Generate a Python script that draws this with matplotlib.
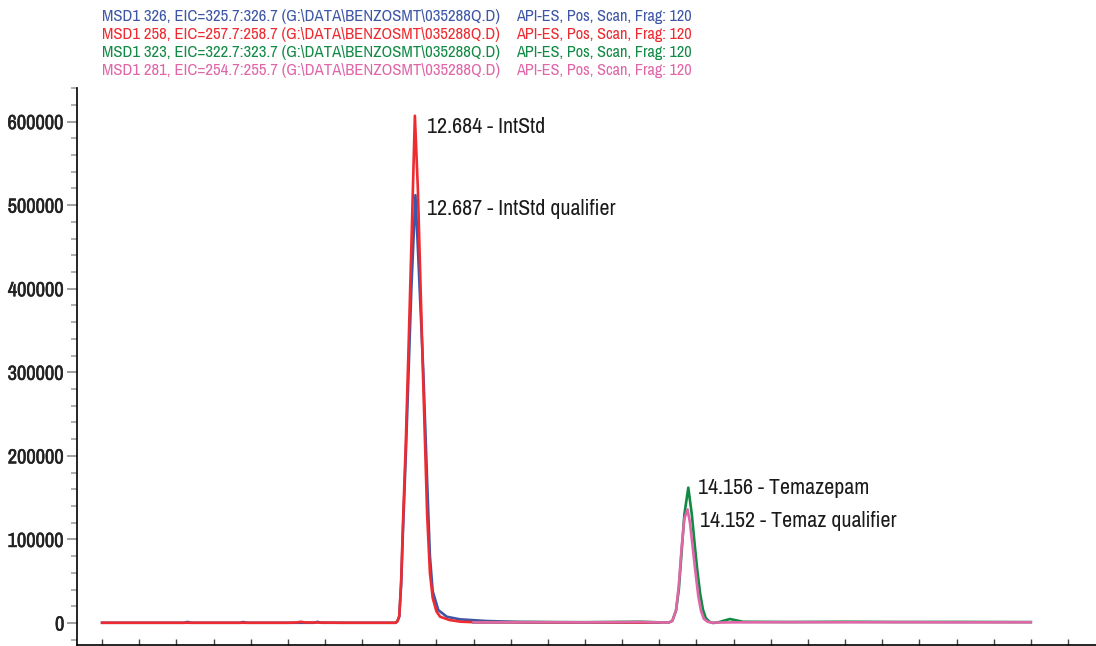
import numpy as np
import matplotlib.pyplot as plt
import matplotlib.patheffects as pe
from matplotlib import font_manager
from matplotlib.ticker import MultipleLocator, NullFormatter

# the original uses a condensed face; take one if installed
names = sorted({f.name for f in font_manager.fontManager.ttflist})
narrow = [n for n in names if 'Condensed' in n or 'Narrow' in n]
plt.rcParams['font.family'] = narrow[:1] + ['Liberation Sans', 'DejaVu Sans']

# trace colours (header legend uses the same)
c_blue = "#3d56a6"
c_red = "#ee2b30"
c_green = "#108a45"
c_pink = "#e066a8"

# MSD1 326 (IntStd qualifier), blue
t_326 = [11.00, 11.30, 11.44, 11.46, 11.48, 11.74, 11.76, 11.78, 12.14, 12.16, 12.18, 12.40, 12.58,
         12.59, 12.60, 12.61, 12.62, 12.635, 12.65, 12.665, 12.687, 12.70, 12.729, 12.75, 12.765,
         12.78, 12.81, 12.856, 12.927, 13.07, 13.25, 13.50, 13.75, 14.00]
v_326 = [300, 300, 300, 1300, 300, 300, 1200, 300, 300, 1400, 300, 300, 300,
         2000, 8000, 45000, 110000, 200000, 300000, 400000, 512000, 450000, 303000, 170000, 80000,
         38000, 15500, 7500, 4400, 2400, 1200, 700, 600, 500]

# MSD1 258 (IntStd), red
t_258 = [11.00, 11.50, 12.00, 12.05, 12.07, 12.09, 12.30, 12.58,
         12.59, 12.60, 12.61, 12.62, 12.635, 12.65, 12.665, 12.684, 12.70, 12.727, 12.75, 12.765,
         12.78, 12.80, 12.82, 12.87, 12.93, 13.00, 13.25, 13.50, 13.75, 14.00]
v_258 = [300, 300, 300, 700, 1500, 700, 300, 300,
         2000, 8000, 50000, 120000, 215000, 330000, 450000, 607000, 520000, 303000, 130000, 60000,
         30000, 14000, 7500, 3600, 1600, 1000, 800, 600, 500, 500]

# MSD1 323 (Temazepam), green
t_323 = [13.00, 13.30, 13.60, 13.90, 14.05, 14.07, 14.09, 14.105, 14.12, 14.135, 14.156, 14.175,
         14.19, 14.205, 14.22, 14.235, 14.25, 14.27, 14.29, 14.32, 14.38, 14.45, 14.70, 15.00,
         15.30, 15.60, 16.00]
v_323 = [1000, 1200, 1000, 1500, 500, 2500, 15000, 40000, 85000, 130000, 162000, 130000,
         95000, 62000, 35000, 16000, 6000, 1500, 0, 1000, 4800, 1500, 1200, 1500,
         1200, 1300, 1100]

# MSD1 281 (Temaz qualifier), pink
t_281 = [13.00, 13.30, 13.60, 13.90, 14.05, 14.07, 14.09, 14.105, 14.12, 14.135, 14.152, 14.165,
         14.18, 14.195, 14.21, 14.225, 14.24, 14.26, 14.28, 14.40, 14.70, 15.00, 15.30, 15.60, 16.00]
v_281 = [800, 1000, 800, 1200, 500, 2500, 15000, 45000, 90000, 125000, 136000, 120000,
         90000, 60000, 32000, 14000, 5000, 1500, 500, 800, 1000, 900, 1000, 800, 900]

y_ticks = [0, 100000, 200000, 300000, 400000, 500000, 600000]

legend_left = [
    r"MSD1 326, EIC=325.7:326.7 (G:\DATA\BENZOSMT\035288Q.D)",
    r"MSD1 258, EIC=257.7:258.7 (G:\DATA\BENZOSMT\035288Q.D)",
    r"MSD1 323, EIC=322.7:323.7 (G:\DATA\BENZOSMT\035288Q.D)",
    r"MSD1 281, EIC=254.7:255.7 (G:\DATA\BENZOSMT\035288Q.D)",
]
legend_right = "API-ES, Pos, Scan, Frag: 120"

peak_labels = [
    (12.684, 607000, "12.684 - IntStd", (12, -11)),
    (12.687, 512000, "12.687 - IntStd qualifier", (12, -14)),
    (14.156, 162000, "14.156 - Temazepam", (10, 0)),
    (14.152, 136000, "14.152 - Temaz qualifier", (12, -12)),
]

fig = plt.figure(figsize=(10.96, 6.46), dpi=100)
ax = fig.add_axes([77 / 1096, 1 / 646, 1 - 77 / 1096, 557 / 646])

ax.plot(t_326, v_326, color=c_blue, lw=1.9)
ax.plot(t_258, v_258, color=c_red, lw=1.9)
ax.plot(t_323, v_323, color=c_green, lw=1.9)
ax.plot(t_281, v_281, color=c_pink, lw=1.9)

ax.set_xlim(10.865, 16.351)
ax.set_ylim(-26300, 640200)

ax.spines['top'].set_visible(False)
ax.spines['right'].set_visible(False)
ax.spines['left'].set_linewidth(1.2)
ax.spines['bottom'].set_linewidth(1.2)

ax.set_xticks(np.arange(11.0, 16.21, 0.2))
ax.xaxis.set_major_formatter(NullFormatter())
ax.tick_params(axis='x', direction='in', length=4, width=1, color='#444444')

ax.yaxis.set_minor_locator(MultipleLocator(20000))
ax.set_yticks(y_ticks)
ax.set_yticklabels([str(v) for v in y_ticks], fontweight='bold', fontsize=13, color='#222222')
ax.tick_params(axis='y', which='major', direction='out', length=7, width=1.3, color='#999999', pad=2)
ax.tick_params(axis='y', which='minor', direction='out', length=4.5, width=1.3, color='#aaaaaa')

ann = []
for t, v, txt, off in peak_labels:
    a = ax.annotate(txt, xy=(t, v), xytext=off, textcoords='offset pixels',
                    ha='left', va='center', fontsize=15.5, color='#1a1a1a')
    ann.append(a)

cols = [c_blue, c_red, c_green, c_pink]
lefts, rights = [], []
for i, (txt, c) in enumerate(zip(legend_left, cols)):
    y = 1 - (17 + 18 * i) / 646
    lefts.append(fig.text(102 / 1096, y, txt, color=c, fontsize=11, va='center', ha='left'))
    rights.append(fig.text(516 / 1096, y, legend_right, color=c, fontsize=11, va='center', ha='left'))

# fit text sizes to the widths measured on the reference (px)
fig.canvas.draw()
r = fig.canvas.get_renderer()

def fit(texts, width_px):
    w = texts[0].get_window_extent(r).width
    s = texts[0].get_fontsize() * width_px / w
    for t in texts:
        t.set_fontsize(s)

fit(ann, 118)
fit(lefts, 398)
fit(rights, 176)
ylabs = ax.get_yticklabels()
fit(ylabs[::-1], 56)
# the condensed face has no bold: thicken the axis numbers a little
for lab in ylabs:
    lab.set_path_effects([pe.withStroke(linewidth=0.4, foreground='#222222')])

fig.savefig("out.png", dpi=100)
